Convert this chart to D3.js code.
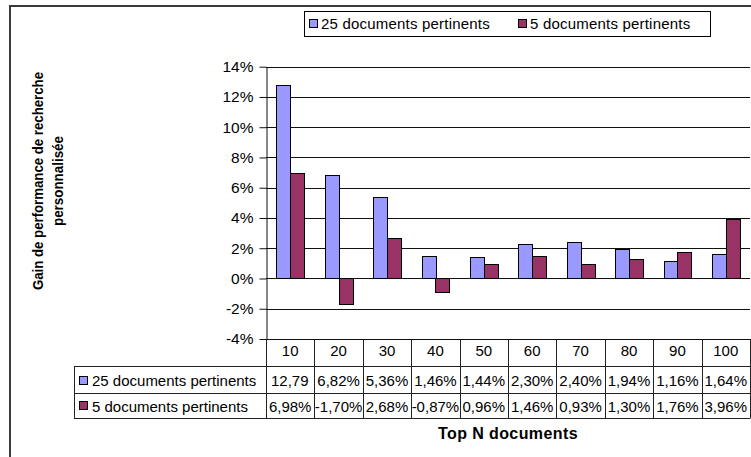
<!DOCTYPE html>
<html>
<head>
<meta charset="utf-8">
<script src="https://cdn.jsdelivr.net/npm/d3@7"></script>
<style>
  html, body { margin: 0; padding: 0; background: #fff; }
  svg { display: block; font-family: "Liberation Sans", Arial, sans-serif; }
</style>
</head>
<body>
<svg id="chart" width="751" height="457"></svg>
<script>
// Top-N cut-offs and personalised search gain for each relevance setting
const categories = ["10", "20", "30", "40", "50", "60", "70", "80", "90", "100"];
const seriesNames = ["25 documents pertinents", "5 documents pertinents"];
const gain25 = [0.1279, 0.0682, 0.0536, 0.0146, 0.0144, 0.0230, 0.0240, 0.0194, 0.0116, 0.0164];
const gain5 = [0.0698, -0.0170, 0.0268, -0.0087, 0.0096, 0.0146, 0.0093, 0.0130, 0.0176, 0.0396];
const yTicks = [-0.04, -0.02, 0, 0.02, 0.04, 0.06, 0.08, 0.10, 0.12, 0.14];
const seriesColors = ["#9999FF", "#993366"];

const seriesValues = [gain25, gain5];

const fr = d3.formatLocale({
  decimal: ",", thousands: " ", grouping: [3], currency: ["", " €"], minus: "-"
});
const tickFmt = fr.format(".0%");
const cellFmt = fr.format(".2%");

const svg = d3.select("#chart");

// outer chart frame (only top and left edges fall inside the view)
svg.append("rect")
  .attr("x", 10).attr("y", 6).attr("width", 900).attr("height", 600)
  .attr("fill", "none").attr("stroke", "#3a3a3a").attr("stroke-width", 2);

const plot = { left: 266, right: 750, top: 66.7, bottom: 339 };

const x0 = d3.scaleBand().domain(categories).range([plot.left, plot.right]).padding(0);
const x1 = d3.scaleBand().domain(seriesNames).range([0, x0.bandwidth()])
  .paddingInner(0).paddingOuter(0.75);
const y = d3.scaleLinear().domain([-0.04, 0.14]).range([plot.bottom, plot.top]);

const crisp = v => Math.round(v) + 0.5;

// horizontal gridlines
svg.append("g").selectAll("line").data(yTicks).join("line")
  .attr("x1", plot.left).attr("x2", plot.right)
  .attr("y1", d => crisp(y(d))).attr("y2", d => crisp(y(d)))
  .attr("stroke", "#111").attr("stroke-width", 1);

// bars
const groups = svg.append("g").selectAll("g").data(seriesNames).join("g")
  .attr("fill", (d, i) => seriesColors[i]);
groups.each(function (name, si) {
  d3.select(this).selectAll("rect").data(seriesValues[si]).join("rect")
    .attr("x", (d, i) => Math.round(x0(categories[i]) + x1(name)) + 0.5)
    .attr("width", Math.round(x1.bandwidth()))
    .attr("y", d => Math.round(y(Math.max(0, d))) + 0.5)
    .attr("height", d => Math.abs(Math.round(y(0)) - Math.round(y(d))))
    .attr("stroke", "#000").attr("stroke-width", 1);
});

// value axis
const yAxis = d3.axisLeft(y).tickValues(yTicks).tickFormat(tickFmt)
  .tickSizeInner(7).tickSizeOuter(0).tickPadding(6);
const yg = svg.append("g").attr("transform", `translate(${plot.left + 0.5},0)`).call(yAxis);
yg.select(".domain").attr("stroke", "#111");
yg.selectAll(".tick line").attr("stroke", "#111");
yg.selectAll(".tick text")
  .attr("font-size", 15.5).attr("fill", "#000")
  .attr("font-family", "'Liberation Sans', Arial, sans-serif");

// data table under the plot
const table = svg.append("g");
const rowTop = [plot.bottom, 365.7, 393.3, 417.5];
const tableLeft = 74;
const lineColor = "#222";

// row separators
[rowTop[1], rowTop[2], rowTop[3]].forEach(v => {
  table.append("line")
    .attr("x1", tableLeft).attr("x2", plot.right)
    .attr("y1", crisp(v)).attr("y2", crisp(v))
    .attr("stroke", lineColor);
});
// column separators
const colEdges = categories.map(c => x0(c)).concat([plot.right]);
table.selectAll("line.col").data(colEdges).join("line")
  .attr("class", "col")
  .attr("x1", d => crisp(d)).attr("x2", d => crisp(d))
  .attr("y1", rowTop[0]).attr("y2", crisp(rowTop[3]))
  .attr("stroke", lineColor);
table.append("line")
  .attr("x1", crisp(tableLeft)).attr("x2", crisp(tableLeft))
  .attr("y1", crisp(rowTop[1])).attr("y2", crisp(rowTop[3]))
  .attr("stroke", lineColor);

// category header
table.selectAll("text.cat").data(categories).join("text")
  .attr("class", "cat")
  .attr("x", d => x0(d) + x0.bandwidth() / 2).attr("y", 356)
  .attr("text-anchor", "middle").attr("font-size", 15).text(d => d);

// series rows with legend keys
const rowBase = [386, 412];
seriesNames.forEach((name, si) => {
  const top = rowTop[si + 1];
  const bottom = rowTop[si + 2];
  const mid = (top + bottom) / 2;
  table.append("rect")
    .attr("x", 79.5).attr("y", Math.round(mid - 4) + 0.5)
    .attr("width", 8).attr("height", 8)
    .attr("fill", seriesColors[si]).attr("stroke", "#000");
  table.append("text")
    .attr("x", 92).attr("y", rowBase[si])
    .attr("font-size", 15).text(name);

  seriesValues[si].forEach((v, ci) => {
    const cx = x0(categories[ci]);
    const w = x0.bandwidth();
    const label = cellFmt(v);
    const t = table.append("text")
      .attr("x", cx + w / 2).attr("y", rowBase[si])
      .attr("text-anchor", "middle").attr("font-size", 15)
      .text(label);
    // a cell too narrow for its value shows the leading characters only
    if (t.node().getComputedTextLength() > w) {
      let n = label.length;
      while (n > 1 && t.node().getComputedTextLength() > w - 7) {
        n -= 1;
        t.text(label.slice(0, n));
      }
      t.attr("text-anchor", "start").attr("x", cx + 5);
    }
  });
});

// category axis title
svg.append("text")
  .attr("x", 508).attr("y", 439)
  .attr("text-anchor", "middle").attr("font-size", 16).attr("font-weight", "bold")
  .attr("letter-spacing", 0.4)
  .text("Top N documents");

// value axis title, two lines
const yTitleLines = [
  { text: "Gain de performance de recherche", base: 43, len: 218 },
  { text: "personnalisée", base: 63, len: 90 }
];
svg.append("g").attr("transform", "translate(0,181) rotate(-90)")
  .selectAll("text").data(yTitleLines).join("text")
  .attr("x", d => -d.len / 2).attr("y", d => d.base)
  .attr("font-size", 15).attr("font-weight", "bold")
  .attr("textLength", d => d.len).attr("lengthAdjust", "spacingAndGlyphs")
  .text(d => d.text);

// legend
const legend = svg.append("g");
legend.append("rect")
  .attr("x", 304.5).attr("y", 11.5).attr("width", 406).attr("height", 25)
  .attr("fill", "#fff").attr("stroke", "#000");
const legendX = [309, 518];
seriesNames.forEach((name, si) => {
  legend.append("rect")
    .attr("x", legendX[si] + 0.5).attr("y", 19.5).attr("width", 8).attr("height", 8)
    .attr("fill", seriesColors[si]).attr("stroke", "#000");
  legend.append("text")
    .attr("x", legendX[si] + 12).attr("y", 29)
    .attr("font-size", 15).attr("letter-spacing", 0.2).text(name);
});
</script>
</body>
</html>
